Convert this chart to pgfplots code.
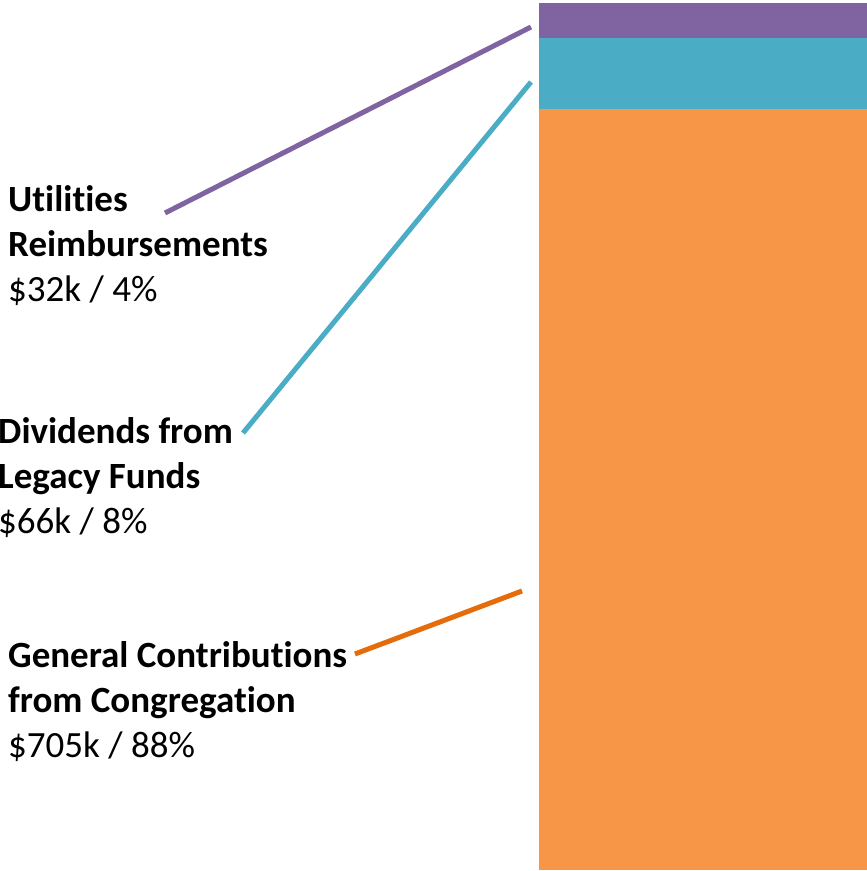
\documentclass[border=0pt]{standalone}
\usepackage{pgfplots}
\pgfplotsset{compat=1.18}
\usepackage{fontspec}
\setmainfont[Ligatures=NoCommon]{Carlito}
\definecolor{cPurple}{HTML}{8064A2}
\definecolor{cTeal}{HTML}{4BACC6}
\definecolor{cOrange}{HTML}{F79646}
\definecolor{cOrangeLine}{HTML}{E46C0A}
\begin{document}
\begin{tikzpicture}[x=1pt,y=1pt]
\useasboundingbox (0,0) rectangle (867,871);
\begin{axis}[at={(0,0)},anchor=south west,
  scale only axis, width=867pt, height=871pt,
  xmin=0, xmax=867, ymin=-0.926, ymax=805.78,
  hide axis, ybar stacked, bar width=328, bar shift=0pt]
\addplot[fill=cOrange, draw=none] coordinates {(703,705)};
\addplot[fill=cTeal, draw=none] coordinates {(703,66)};
\addplot[fill=cPurple, draw=none] coordinates {(703,32)};
\end{axis}
\draw[cPurple, line width=5pt] (165,871-213) -- (531,871-27);
\draw[cTeal, line width=5pt] (243,871-433) -- (531,871-82);
\draw[cOrangeLine, line width=5pt] (355,871-654) -- (522,871-591);
\tikzset{lbl/.style={anchor=base west, inner sep=0pt, font=\fontsize{37}{45}\selectfont}}
\node[lbl] at (8,871-212) {\bfseries Utilities};
\node[lbl] at (8,871-257) {\bfseries Reimbursements};
\node[lbl] at (8,871-302) {\$32k / 4\%};
\node[lbl] at (-2,871-444) {\bfseries Dividends from};
\node[lbl] at (-2,871-489) {\bfseries Legacy Funds};
\node[lbl] at (-2,871-534) {\$66k / 8\%};
\node[lbl] at (8,871-668) {\bfseries General Contributions};
\node[lbl] at (8,871-713) {\bfseries from Congregation};
\node[lbl] at (8,871-758) {\$705k / 88\%};
\end{tikzpicture}
\end{document}
